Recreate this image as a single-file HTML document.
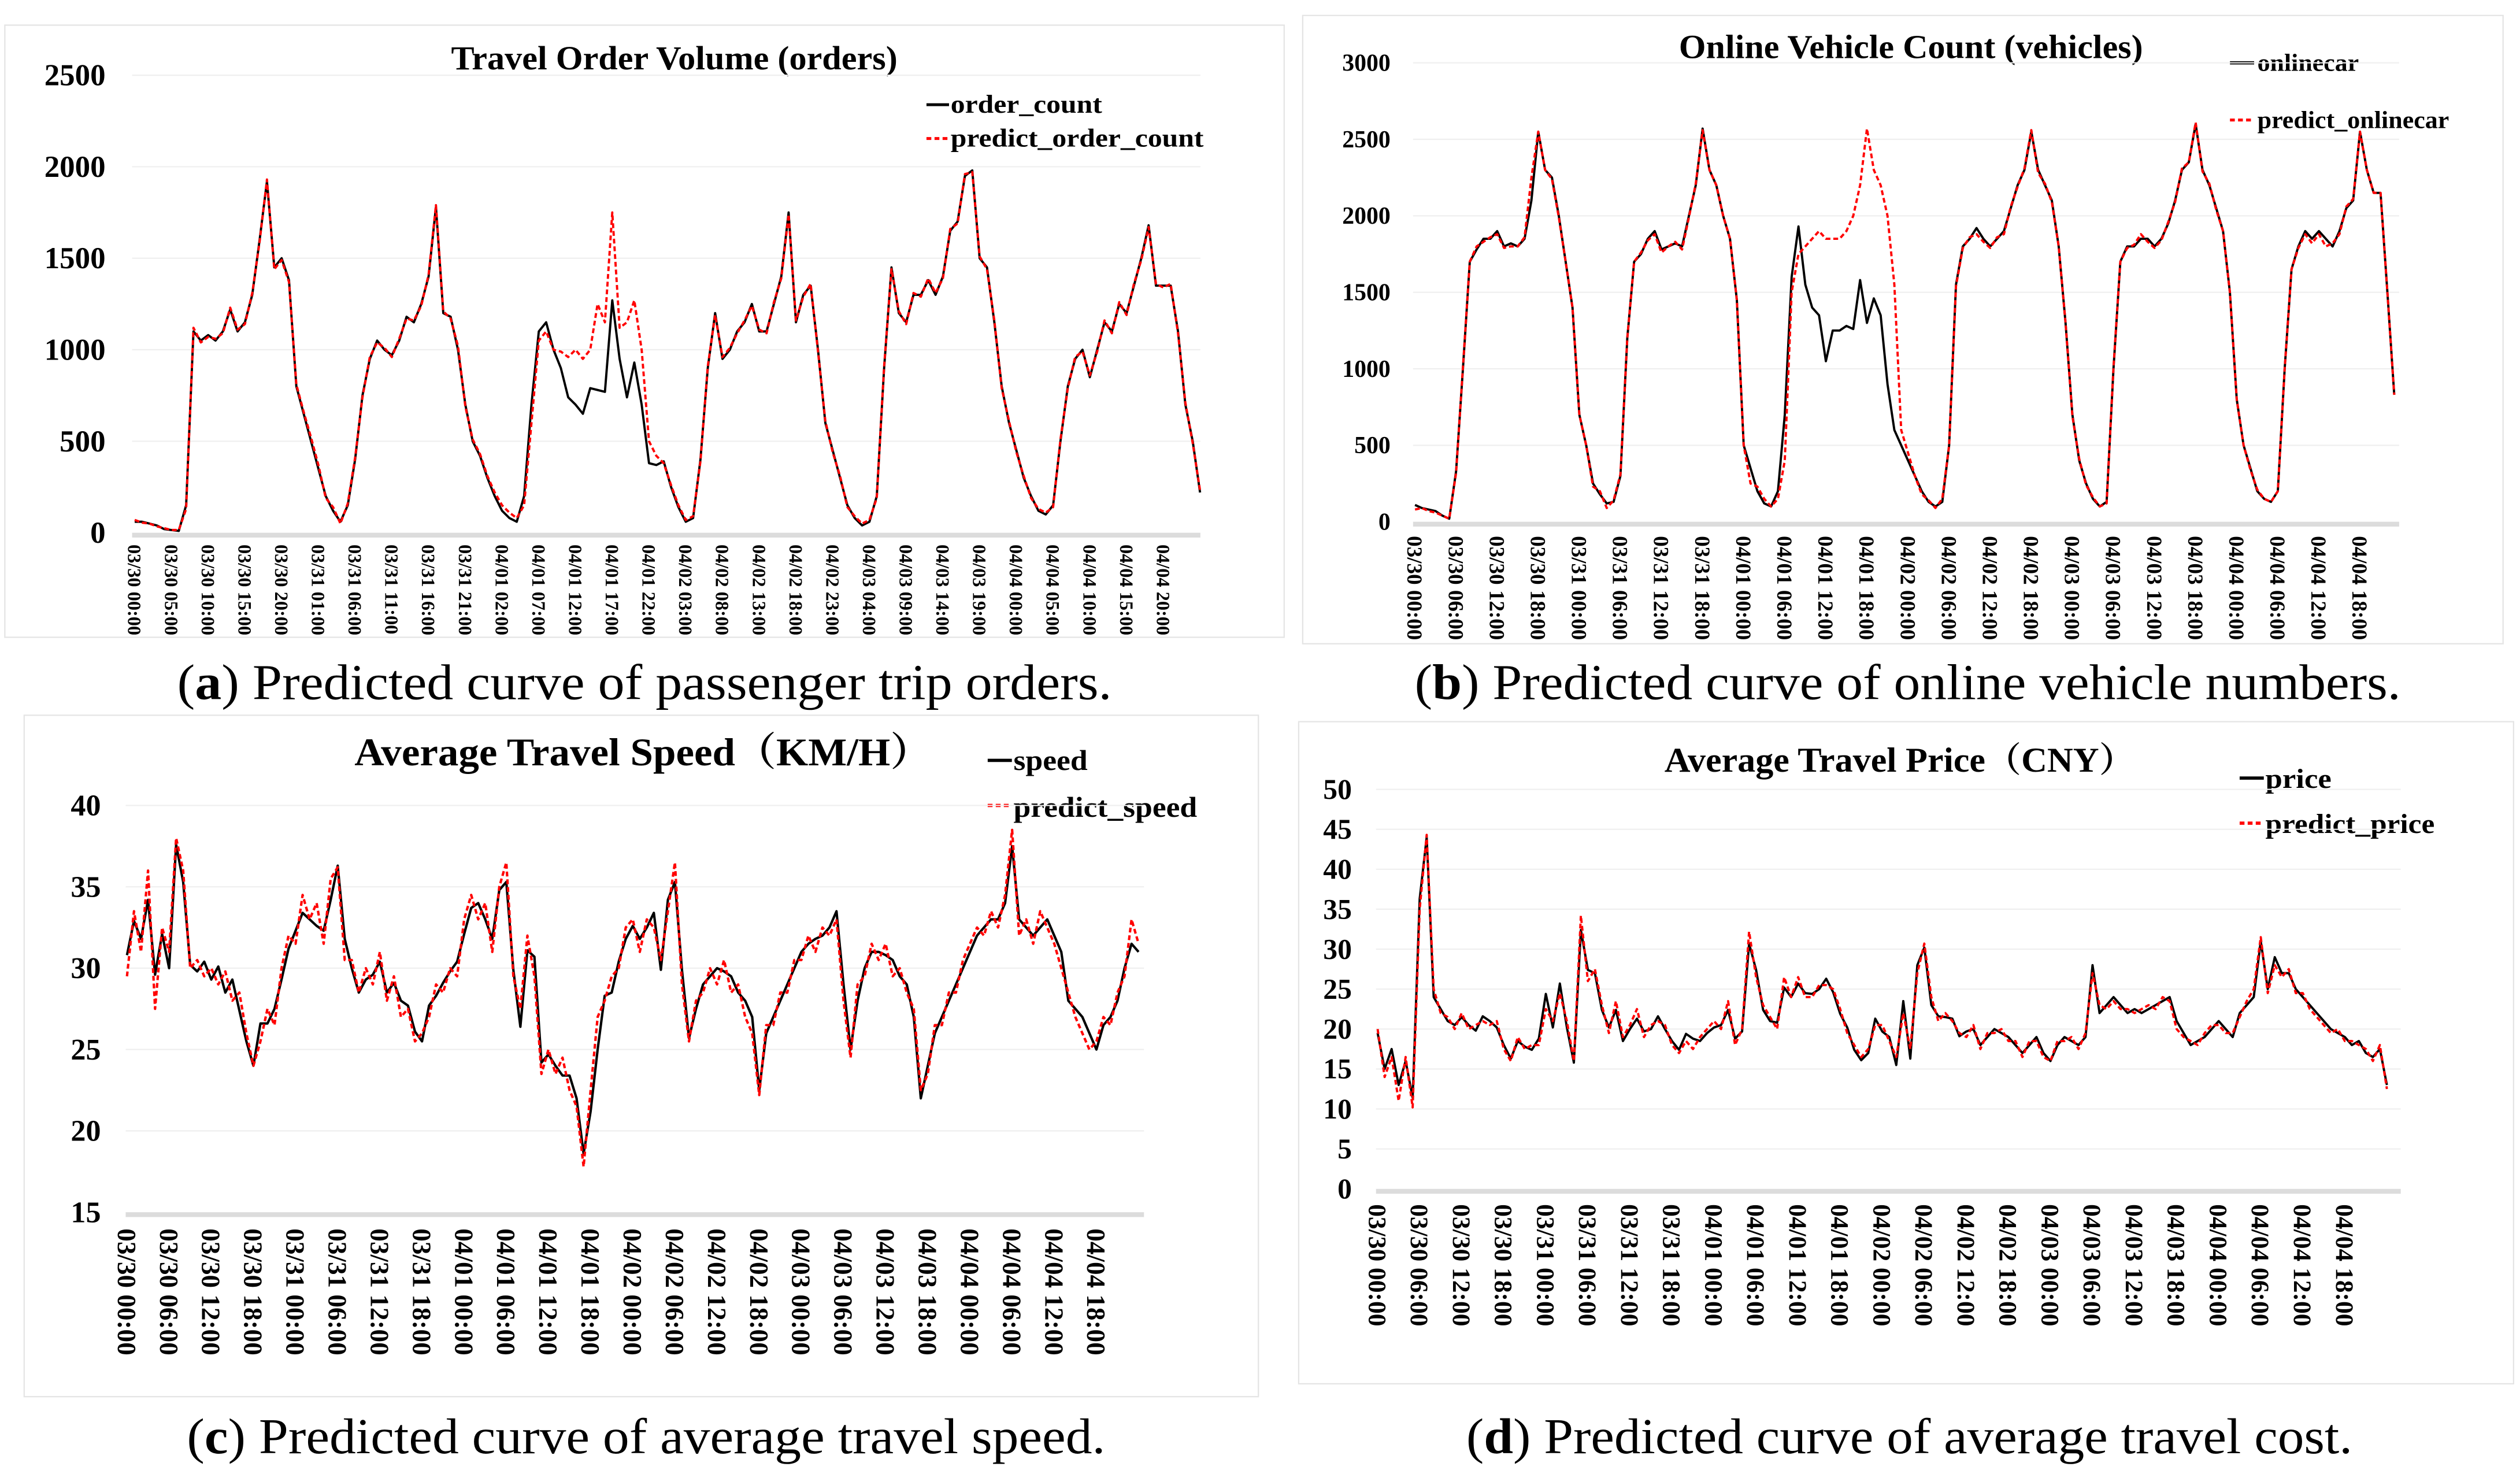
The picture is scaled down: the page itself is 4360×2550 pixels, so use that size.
<!DOCTYPE html>
<html>
<head>
<meta charset="utf-8">
<style>
  html,body{margin:0;padding:0;background:#fff;}
  svg{display:block;}
  text{font-family:"Liberation Serif","Noto Serif CJK SC",serif;}
  .b{font-weight:bold;}
</style>
</head>
<body>
<svg id="root" width="4360" height="2550" viewBox="0 0 1564 915" preserveAspectRatio="none" xmlns="http://www.w3.org/2000/svg">
  <rect x="0" y="0" width="1564" height="915" fill="#fff"/>
  <rect x="3" y="15.6" width="794" height="380" fill="none" stroke="#e4e4e4" stroke-width="0.8"/>
  <rect x="808.5" y="9.6" width="745" height="390" fill="none" stroke="#e4e4e4" stroke-width="0.8"/>
  <rect x="15" y="444" width="766" height="423" fill="none" stroke="#e4e4e4" stroke-width="0.8"/>
  <rect x="806" y="448" width="754" height="411" fill="none" stroke="#e4e4e4" stroke-width="0.8"/>

  <text class="b" x="280" y="43" font-size="21" textLength="277" lengthAdjust="spacingAndGlyphs">Travel Order Volume (orders)</text>
  <text class="b" x="1042" y="36" font-size="21" textLength="288" lengthAdjust="spacingAndGlyphs">Online Vehicle Count (vehicles)</text>
  <text class="b" x="220" y="475" font-size="24.5" textLength="358" lengthAdjust="spacingAndGlyphs">Average Travel Speed（KM/H）</text>
  <text class="b" x="1033" y="479" font-size="21.5" textLength="292" lengthAdjust="spacingAndGlyphs">Average Travel Price（CNY）</text>

  <g>
    <line x1="575" y1="65" x2="589" y2="65" stroke="#000" stroke-width="1.8"/>
    <text class="b" x="590" y="70" font-size="16" textLength="94" lengthAdjust="spacingAndGlyphs">order_count</text>
    <line x1="575" y1="86" x2="589" y2="86" stroke="#f00" stroke-width="1.8" stroke-dasharray="3,2"/>
    <text class="b" x="590" y="91" font-size="16" textLength="157" lengthAdjust="spacingAndGlyphs">predict_order_count</text>
  </g>
  <g>
    <line x1="1384" y1="39" x2="1399" y2="39" stroke="#000" stroke-width="2"/>
    <text class="b" x="1401" y="44" font-size="15" textLength="63" lengthAdjust="spacingAndGlyphs">onlinecar</text>
    <line x1="1384" y1="74.5" x2="1399" y2="74.5" stroke="#f00" stroke-width="1.8" stroke-dasharray="3,2"/>
    <text class="b" x="1401" y="79.5" font-size="15" textLength="119" lengthAdjust="spacingAndGlyphs">predict_onlinecar</text>
  </g>
  <g>
    <line x1="613" y1="472" x2="628" y2="472" stroke="#000" stroke-width="2"/>
    <text class="b" x="629" y="478" font-size="18" textLength="46" lengthAdjust="spacingAndGlyphs">speed</text>
    <line x1="613" y1="500" x2="628" y2="500" stroke="#f00" stroke-width="2" stroke-dasharray="3,2"/>
    <text class="b" x="629" y="507" font-size="18" textLength="114" lengthAdjust="spacingAndGlyphs">predict_speed</text>
  </g>
  <g>
    <line x1="1390" y1="483" x2="1405" y2="483" stroke="#000" stroke-width="2"/>
    <text class="b" x="1406" y="489" font-size="17" textLength="41" lengthAdjust="spacingAndGlyphs">price</text>
    <line x1="1390" y1="511" x2="1405" y2="511" stroke="#f00" stroke-width="2" stroke-dasharray="3,2"/>
    <text class="b" x="1406" y="517" font-size="17" textLength="105" lengthAdjust="spacingAndGlyphs">predict_price</text>
  </g>

  <text x="110" y="434" font-size="31" textLength="580" lengthAdjust="spacingAndGlyphs">(<tspan font-weight="bold">a</tspan>) Predicted curve of passenger trip orders.</text>
  <text x="878" y="434" font-size="31" textLength="612" lengthAdjust="spacingAndGlyphs">(<tspan font-weight="bold">b</tspan>) Predicted curve of online vehicle numbers.</text>
  <text x="116" y="902" font-size="31" textLength="570" lengthAdjust="spacingAndGlyphs">(<tspan font-weight="bold">c</tspan>) Predicted curve of average travel speed.</text>
  <text x="910" y="902" font-size="31" textLength="550" lengthAdjust="spacingAndGlyphs">(<tspan font-weight="bold">d</tspan>) Predicted curve of average travel cost.</text>

  <g id="chart-a"></g>
  <g id="chart-b"></g>
  <g id="chart-c"></g>
  <g id="chart-d"></g>
</svg>
<script>
const aXLabels = ["03/30 00:00","03/30 05:00","03/30 10:00","03/30 15:00","03/30 20:00","03/31 01:00","03/31 06:00","03/31 11:00","03/31 16:00","03/31 21:00","04/01 02:00","04/01 07:00","04/01 12:00","04/01 17:00","04/01 22:00","04/02 03:00","04/02 08:00","04/02 13:00","04/02 18:00","04/02 23:00","04/03 04:00","04/03 09:00","04/03 14:00","04/03 19:00","04/04 00:00","04/04 05:00","04/04 10:00","04/04 15:00","04/04 20:00"];
const aYTicks = [0,500,1000,1500,2000,2500];
const aOrderCount = [60,60,50,40,20,15,10,150,1100,1050,1080,1050,1100,1220,1100,1150,1300,1600,1920,1450,1500,1380,800,650,500,350,200,120,60,150,400,750,950,1050,1000,970,1050,1180,1150,1250,1400,1780,1200,1180,1000,700,500,420,300,200,120,80,
60,200,700,1100,1150,1000,900,740,700,650,790,780,770,1270,950,740,930,700,380,370,390,250,140,60,
80,400,900,1200,950,1000,1100,1150,1250,1100,1100,1250,1400,1750,1150,1300,1350,1000,600,450,300,150,80,40,60,200,900,1450,1200,1150,1300,1300,1380,1300,1400,1650,1700,1950,1980,1500,1450,1150,800,600,450,300,200,120,100,150,500,800,950,1000,850,1000,1150,1100,1250,1200,1350,1500,1680,1350,1350,1350,1100,700,500,220];
const aPredictOrderCount = [70,55,50,35,25,15,15,130,1120,1040,1070,1060,1090,1230,1110,1140,1310,1590,1930,1440,1490,1370,810,660,520,370,190,140,50,160,410,740,960,1040,1010,960,1060,1170,1160,1240,1410,1790,1210,1170,1020,690,510,430,310,220,150,110,
80,150,600,1050,1100,1000,990,960,1000,950,1000,1250,1150,1750,1120,1150,1270,1000,500,420,380,260,150,70,
90,390,910,1190,960,1010,1090,1160,1240,1110,1090,1260,1390,1740,1160,1290,1360,990,610,440,310,140,90,50,70,190,910,1440,1210,1140,1310,1290,1390,1310,1390,1660,1690,1960,1970,1510,1440,1160,790,610,440,310,190,130,110,140,510,790,960,990,860,990,1160,1090,1260,1190,1360,1490,1670,1360,1340,1360,1090,710,490,230];

const bXLabels = ["03/30 00:00","03/30 06:00","03/30 12:00","03/30 18:00","03/31 00:00","03/31 06:00","03/31 12:00","03/31 18:00","04/01 00:00","04/01 06:00","04/01 12:00","04/01 18:00","04/02 00:00","04/02 06:00","04/02 12:00","04/02 18:00","04/03 00:00","04/03 06:00","04/03 12:00","04/03 18:00","04/04 00:00","04/04 06:00","04/04 12:00","04/04 18:00"];
const bYTicks = [0,500,1000,1500,2000,2500,3000];
const bOnlineCar = [110,90,80,70,40,20,330,1000,1700,1780,1850,1850,1900,1800,1820,1800,1850,2100,2550,2300,2250,2000,1700,1400,700,500,250,180,120,130,300,1200,1700,1750,1850,1900,1780,1800,1820,1800,2000,2200,2570,2300,2200,2000,1850,1450,500,350,200,120,100,200,700,1600,1930,1550,1400,1350,1050,1250,1250,1280,1260,1580,1300,1460,1350,900,600,500,400,300,200,130,100,130,500,1550,1800,1850,1920,1850,1800,1850,1900,2050,2200,2300,2550,2300,2200,2100,1800,1300,700,400,250,150,100,130,1000,1700,1800,1800,1850,1850,1800,1850,1950,2100,2300,2350,2600,2300,2200,2050,1900,1500,800,500,350,200,150,130,200,1000,1650,1800,1900,1850,1900,1850,1800,1900,2050,2100,2550,2300,2150,2150,1500,830];
const bPredictOnlineCar = [80,90,70,60,40,20,320,1010,1700,1800,1830,1860,1880,1790,1800,1800,1860,2250,2550,2300,2240,1990,1700,1400,700,500,230,200,90,140,310,1200,1700,1760,1840,1880,1760,1800,1830,1780,1990,2210,2560,2300,2200,2000,1850,1450,500,250,230,150,100,150,400,1500,1750,1800,1850,1900,1850,1850,1850,1900,2000,2200,2570,2300,2200,2000,1550,600,450,300,180,140,90,150,500,1540,1790,1860,1880,1830,1790,1860,1880,2060,2190,2310,2560,2280,2210,2090,1800,1300,690,410,240,160,100,120,1010,1700,1790,1810,1880,1830,1790,1840,1960,2090,2310,2350,2610,2290,2210,2040,1900,1500,800,500,340,210,150,130,200,1000,1650,1790,1880,1820,1880,1800,1820,1880,2060,2110,2550,2300,2150,2150,1500,830];

const cXLabels = bXLabels.slice();
const cYTicks = [15,20,25,30,35,40];
const cSpeed = [30.8,32.9,31.8,34.2,29.6,32.1,30,37.6,35.3,30.2,29.8,30.4,29.3,30.1,28.5,29.3,27.4,25.5,24,26.6,26.6,27.5,29.3,31.2,32.3,33.4,33,32.6,32.3,34.2,36.3,31.8,30,28.5,29.3,29.6,30.4,28.5,29.1,28,27.7,26.1,25.5,27.7,28.3,29.1,29.8,30.4,32.1,33.7,34,33,31.8,34.8,35.3,29.9,26.4,31.1,30.7,24.2,24.7,24,23.4,23.4,22,18.6,21.2,25,28.3,28.5,30.4,31.8,32.6,31.8,32.5,33.4,29.9,34.2,35.3,29.9,25.7,27.5,29,29.5,30,29.8,29.5,28.5,28,27,22.5,26,27,28,29,30,31,31.5,31.8,32,32.5,33.5,29,25,28,30,31,31,30.8,30.5,29.5,29,27,22,24,26,27,28,29,30,31,32,32.5,33,33,34,37.5,33,32.5,32,32.5,33,32,31,28,27.5,27,26,25,26.5,27,28,30,31.5,31];
const cPredictSpeed = [29.5,33.5,31,36,27.5,32.5,31,38,36,30,30.5,29.5,30,29,29.8,28,28.5,26,24,25.5,27.5,26.5,30,32,31.5,34.5,33,34,31.5,35.5,36.2,30.5,30.5,28.5,30,29,31,28,29.5,27,27.5,25.5,26,27,29,28.5,30,29.5,33,34.5,33,34,31,35,36.5,29.5,27.5,32,29.5,23.5,25,23.5,24.5,22.5,21.5,17.8,22.5,27,28,29.5,30,32.5,33,31,33,32.5,30.5,33.5,36.5,29,25.5,28,28.5,30,29,30.5,28.5,29,27,26,22.2,26.5,26.5,28.5,28.5,30.5,30.5,32,31,32.5,32,33,28,24.5,29,29.5,31.5,30.5,31.5,29.5,30,28.5,27.5,22.5,23.5,26.5,26.5,28.5,28.5,30.5,31.5,32.5,32,33.5,32.5,34.5,38.5,32,33,31.5,33.5,32.5,31.5,30,28.5,27,26,25,25.5,27,26.5,28.5,29.5,33,31.5];

const dXLabels = bXLabels.slice();
const dYTicks = [0,5,10,15,20,25,30,35,40,45,50];
const dPrice = [19.5,15,17.5,13,16,11.4,36.3,44,24,22.5,21,20.5,21.5,20.5,19.8,21.6,21,20.2,18,16.3,18.5,17.8,17.4,18.8,24.4,20.2,25.7,20.2,15.8,32.4,27.4,27,22.4,20.2,22.4,18.5,20,21.3,19.7,20,21.6,20,18.5,17.4,19.4,18.8,18.5,19.5,20.2,20.5,22.4,18.8,19.7,30.7,27.4,22.4,21,20.8,25.2,24,25.7,24.5,24.4,25,26.3,24.6,21.9,20.2,17.4,16.1,17,21.3,19.7,19,15.5,23.5,16.3,28,30.2,23,21.6,21.5,21.3,19.1,19.7,20,18,19,20,19.5,19,18,17,18,19,17,16,18,19,18.5,18,19,28,22,23,24,23,22,22.5,22,22.5,23,23.5,24,21,19.5,18,18.5,19,20,21,20,19,22,23,24,31,25,29,27,27,25,24,23,22,21,20,19.5,19,18,18.5,17,16.5,17.5,13];
const dPredictPrice = [20,14,16.5,11,16.5,10.2,35,44.3,25,22,21.5,20,22,20,20.5,21,20.5,21,17.5,16,19,17.5,18,18,22.5,21,24.5,21,16,34.2,26,27.5,23,19.5,23.5,19,20.5,22.5,19,20.5,21,20.5,18,17,18.5,17.5,19,20,21,20,23.5,18,20,32.2,26.5,23,21.5,20,26.5,24,26.5,24,24,25.5,25.5,25,22.5,19.5,18,16.5,17.5,20.5,20.5,18.5,16.5,22,17.5,27,30.7,24,21,22,21,19.5,19,20.5,17.5,19.5,19.5,20,18.5,18.5,16.5,18.5,18.5,16.5,16,18.5,18.5,19,17.5,19.5,27,23,22.5,23.5,22.5,22.5,22,22.5,23,22.5,24,23.5,20,19,18.5,18,19.5,20.5,20.5,19.5,19.5,21.5,23.5,25,31.5,24.5,28,26.5,27.5,24.5,24.5,22.5,21.5,20.5,19.5,20,18.5,18.5,18,17.5,16,18,12.5];

const NS = "http://www.w3.org/2000/svg";
function el(tag, parent) {
  const e = document.createElementNS(NS, tag);
  parent.appendChild(e);
  return e;
}

function drawChart(g, cfg, xLabels, yTicks, actual, predicted, prefix) {
  const xScale = h => cfg.x0 + h * cfg.dx;
  const yScale = v => cfg.yBase - (v - cfg.vMin) * cfg.k;
  yTicks.forEach(t => {
    const y = yScale(t);
    if (t !== cfg.vMin) {
      const gl = el("line", g);
      
      
      gl.setAttribute("x1", cfg.gx1); gl.setAttribute("x2", cfg.gx2);
      gl.setAttribute("y1", y); gl.setAttribute("y2", y);
      gl.setAttribute("stroke", "#efefef"); gl.setAttribute("stroke-width", "0.8");
    }
    const tx = el("text", g);
    
    
    tx.setAttribute("x", cfg.yLabelX); tx.setAttribute("y", y + cfg.yFont * 0.33);
    tx.setAttribute("text-anchor", "end");
    tx.setAttribute("font-size", cfg.yFont);
    tx.setAttribute("font-weight", "bold");
    tx.textContent = String(t);
  });
  const ax = el("line", g);
  
  
  ax.setAttribute("x1", cfg.gx1); ax.setAttribute("x2", cfg.gx2);
  ax.setAttribute("y1", yScale(cfg.vMin) + 1.5); ax.setAttribute("y2", yScale(cfg.vMin) + 1.5);
  ax.setAttribute("stroke", "#dcdcdc"); ax.setAttribute("stroke-width", "3");
  xLabels.forEach((lab, i) => {
    const x = xScale(i * cfg.labelStep);
    const tx = el("text", g);
    
    
    tx.setAttribute("x", x); tx.setAttribute("y", cfg.xLabelTop);
    tx.setAttribute("transform", "rotate(90 " + x + " " + cfg.xLabelTop + ")");
    tx.setAttribute("dy", cfg.xFont * 0.35);
    tx.setAttribute("font-size", cfg.xFont);
    tx.setAttribute("font-weight", "bold");
    tx.textContent = lab;
  });
  const pts = arr => arr.map((v, i) => xScale(i).toFixed(2) + "," + yScale(v).toFixed(2)).join(" ");
  const la = el("polyline", g);
  
  
  la.setAttribute("points", pts(actual));
  la.setAttribute("fill", "none"); la.setAttribute("stroke", "#000");
  la.setAttribute("stroke-width", cfg.lw); la.setAttribute("stroke-linejoin", "round");
  const lp = el("polyline", g);
  
  
  lp.setAttribute("points", pts(predicted));
  lp.setAttribute("fill", "none"); lp.setAttribute("stroke", "#f00");
  lp.setAttribute("stroke-width", cfg.lw); lp.setAttribute("stroke-dasharray", "3,1.8");
  lp.setAttribute("stroke-linejoin", "round");
}

drawChart(document.getElementById("chart-a"),
  {x0:83.6, dx:4.56, yBase:330.7, vMin:0, k:56.8/500, gx1:82, gx2:745, yLabelX:65.5, yFont:19, xLabelTop:338, xFont:11.6, labelStep:5, lw:1.4},
  aXLabels, aYTicks, aOrderCount, aPredictOrderCount, "chart-a");
drawChart(document.getElementById("chart-b"),
  {x0:878.2, dx:4.25, yBase:323.9, vMin:0, k:(323.9-39)/3000, gx1:877, gx2:1489, yLabelX:863, yFont:15, xLabelTop:332.7, xFont:13.3, labelStep:6, lw:1.4},
  bXLabels, bYTicks, bOnlineCar, bPredictOnlineCar, "chart-b");
drawChart(document.getElementById("chart-c"),
  {x0:78.8, dx:4.36, yBase:752.5, vMin:15, k:(752.5-500)/25, gx1:78, gx2:710, yLabelX:62.6, yFont:18.7, xLabelTop:762.6, xFont:16.2, labelStep:6, lw:1.5},
  cXLabels, cYTicks, cSpeed, cPredictSpeed, "chart-c");
drawChart(document.getElementById("chart-d"),
  {x0:855, dx:4.35, yBase:738, vMin:0, k:(738-490)/50, gx1:854, gx2:1490, yLabelX:839, yFont:17.8, xLabelTop:747.5, xFont:15.6, labelStep:6, lw:1.4},
  dXLabels, dYTicks, dPrice, dPredictPrice, "chart-d");
</script>
</body>
</html>
